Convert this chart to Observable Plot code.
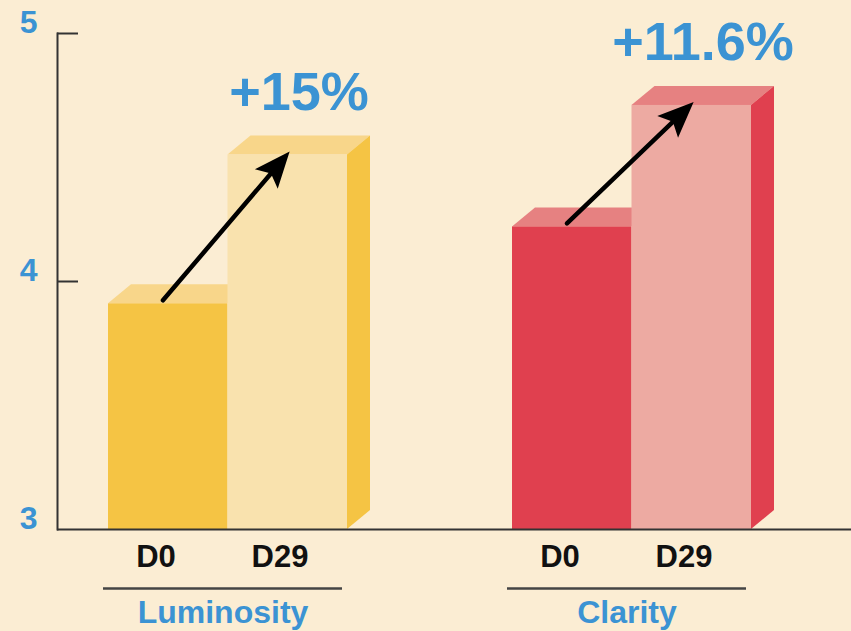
<!DOCTYPE html>
<html>
<head>
<meta charset="utf-8">
<script src="https://cdn.jsdelivr.net/npm/d3@7"></script>
<script src="https://cdn.jsdelivr.net/npm/@observablehq/plot@0.6"></script>
<style>
  html, body { margin: 0; padding: 0; background: #fbedd3; }
</style>
</head>
<body>
<div id="chart"></div>
<script>
// ---- data ----
const groups = ["Luminosity", "Clarity"];
const days = ["D0", "D29"];
const luminosity = [3.91, 4.51];
const clarity = [4.22, 4.71];
const changes = ["+15%", "+11.6%"];
const yTicks = [3, 4, 5];
const yDomain = [3, 5];

const seriesByGroup = {Luminosity: luminosity, Clarity: clarity};
const rows = groups.flatMap(g => days.map((d, j) => ({group: g, day: d, value: seriesByGroup[g][j]})));
const changeRows = groups.map((g, i) => ({group: g, value: seriesByGroup[g][1], text: changes[i]}));

// ---- styles ----
const palette = {
  Luminosity: {front0: "#f5c444", front1: "#f9e2ae", top: "#f8d68a", side: "#f5c444"},
  Clarity: {front0: "#e0404f", front1: "#edaaa2", top: "#e68181", side: "#e0404f"}
};
const blue = "#3b93d3";
const ink = "#333333";
const font = "'Liberation Sans', Arial, Helvetica, sans-serif";
const DX = 23, DY = 19;

function bars3d(index, scales) {
  const {x, y} = scales;
  const bw = x.bandwidth();
  const half = bw / 2;
  const y0 = y(yDomain[0]);
  const g = d3.create("svg:g");
  for (const grp of groups) {
    const p = palette[grp];
    const [v0, v1] = days.map(d => y(rows.find(r => r.group === grp && r.day === d).value));
    const left = x(grp), mid = left + half, right = left + bw;
    const poly = (pts, fill) => g.append("polygon").attr("points", pts.map(q => q.join(",")).join(" ")).attr("fill", fill);
    poly([[left, v0], [left + DX, v0 - DY], [mid + DX, v0 - DY], [mid, v0]], p.top);
    g.append("rect").attr("x", left).attr("y", v0).attr("width", half).attr("height", y0 - v0).attr("fill", p.front0);
    poly([[mid, v1], [mid + DX, v1 - DY], [right + DX, v1 - DY], [right, v1]], p.top);
    poly([[right, v1], [right + DX, v1 - DY], [right + DX, y0 - DY], [right, y0]], p.side);
    g.append("rect").attr("x", mid).attr("y", v1).attr("width", half).attr("height", y0 - v1).attr("fill", p.front1);
  }
  return g.node();
}

function arrows(index, scales) {
  const {x, y} = scales;
  const bw = x.bandwidth();
  const half = bw / 2;
  const g = d3.create("svg:g");
  for (const grp of groups) {
    const [v0, v1] = days.map(d => y(rows.find(r => r.group === grp && r.day === d).value));
    const left = x(grp), mid = left + half;
    const tail = [left + 0.46 * half, v0 - 3];
    const tip = [mid + 0.52 * half, v1 - 3];
    const dx = tip[0] - tail[0], dy = tip[1] - tail[1];
    const len = Math.hypot(dx, dy);
    const ux = dx / len, uy = dy / len, nx = -uy, ny = ux;
    const L = 36, W = 15;
    const base = [tip[0] - L * ux, tip[1] - L * uy];
    const notch = [tip[0] - 0.8 * L * ux, tip[1] - 0.8 * L * uy];
    g.append("line")
      .attr("x1", tail[0]).attr("y1", tail[1])
      .attr("x2", notch[0]).attr("y2", notch[1])
      .attr("stroke", "#000").attr("stroke-width", 4.5).attr("stroke-linecap", "round");
    g.append("polygon")
      .attr("points", [tip, [base[0] + W * nx, base[1] + W * ny], notch, [base[0] - W * nx, base[1] - W * ny]].map(q => q.join(",")).join(" "))
      .attr("fill", "#000");
  }
  return g.node();
}

const chart = Plot.plot({
  width: 851,
  height: 631,
  marginLeft: 57,
  marginRight: 0,
  marginTop: 33,
  marginBottom: 102,
  style: {background: "#fbedd3", fontFamily: font, overflow: "visible"},
  x: {type: "band", domain: groups, paddingInner: 0.4074, paddingOuter: 0.184, align: 0.3356, axis: null},
  y: {domain: yDomain, axis: null},
  marks: [
    Plot.barY(rows, {x: "group", y1: yDomain[0], y2: "value", render: bars3d}),
    Plot.barY(rows, {x: "group", y1: yDomain[0], y2: "value", render: arrows}),
    Plot.ruleY([yDomain[0]], {stroke: ink, strokeWidth: 2}),
    Plot.frame({anchor: "left", stroke: ink, strokeWidth: 2}),
    Plot.axisY([4, 5], {tickSize: -21, stroke: ink, strokeWidth: 2, fill: "none", label: null}),
    Plot.axisY(yTicks, {tickSize: 0, tickPadding: 20, tickFormat: d3.format("d"), fontSize: 32, fontWeight: "bold", fill: blue, dy: -11, label: null}),
    Plot.text(rows.filter(r => r.day === days[0]), {x: "group", text: "day", frameAnchor: "bottom", lineAnchor: "bottom", dx: -72, dy: 37, fontSize: 31, fontWeight: "bold", fill: "#111"}),
    Plot.text(rows.filter(r => r.day === days[1]), {x: "group", text: "day", frameAnchor: "bottom", lineAnchor: "bottom", dx: 52, dy: 37, fontSize: 31, fontWeight: "bold", fill: "#111"}),
    Plot.tickY(groups, {x: d => d, y: () => yDomain[0], dx: -5, dy: 59, stroke: "#444", strokeWidth: 2.5}),
    Plot.text(groups, {x: d => d, text: d => d, frameAnchor: "bottom", lineAnchor: "bottom", dx: -5, dy: 93, fontSize: 32, fontWeight: "bold", fill: blue}),
    Plot.text(changeRows, {x: "group", y: "value", text: "text", dx: 71, dy: -45, lineAnchor: "bottom", fontSize: 54, fontWeight: "bold", fill: blue})
  ]
});
document.getElementById("chart").append(chart);
</script>
</body>
</html>
